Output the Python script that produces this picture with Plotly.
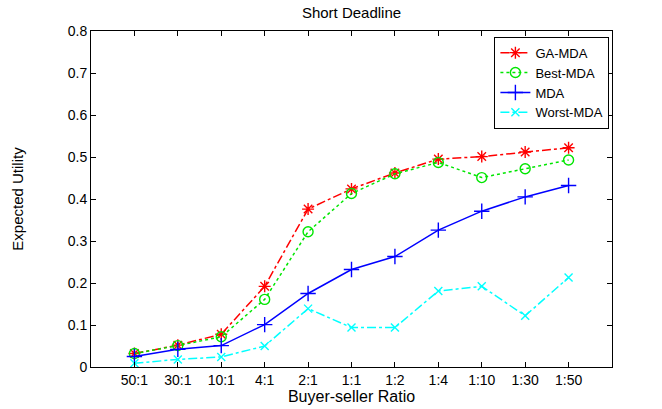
import plotly.graph_objects as go

categories = ["50:1", "30:1", "10:1", "4:1", "2:1", "1:1", "1:2", "1:4", "1:10", "1:30", "1:50"]
ga_mda = [0.032, 0.052, 0.078, 0.192, 0.376, 0.424, 0.462, 0.495, 0.501, 0.512, 0.522]
best_mda = [0.032, 0.051, 0.072, 0.161, 0.322, 0.413, 0.460, 0.487, 0.451, 0.472, 0.493]
mda = [0.025, 0.042, 0.051, 0.101, 0.175, 0.232, 0.263, 0.326, 0.371, 0.405, 0.432]
worst_mda = [0.009, 0.018, 0.024, 0.050, 0.139, 0.094, 0.094, 0.181, 0.192, 0.122, 0.213]
y_ticks = [0, 0.1, 0.2, 0.3, 0.4, 0.5, 0.6, 0.7, 0.8]
y_tick_text = ["0", "0.1", "0.2", "0.3", "0.4", "0.5", "0.6", "0.7", "0.8"]

x_idx = list(range(len(categories)))
FONT = "Liberation Sans, Arial, sans-serif"

series = [
    ("GA-MDA", ga_mda, "#ff0000", "dashdot", "asterisk-open", 10),
    ("Best-MDA", best_mda, "#00e600", "dot", "circle-open", 10),
    ("MDA", mda, "#0000ff", "solid", "cross-thin-open", 11),
    ("Worst-MDA", worst_mda, "#00ffff", "dashdot", "x-thin-open", 8),
]

fig = go.Figure()
for name, vals, color, dash, sym, size in series:
    fig.add_trace(go.Scatter(
        x=x_idx, y=vals, name=name, mode="lines+markers",
        line=dict(color=color, width=1.5, dash=dash),
        marker=dict(symbol=sym, size=size, color=color, line=dict(color=color, width=1.4)),
    ))

fig.update_layout(
    width=662, height=409,
    margin=dict(l=91, r=50, t=31, b=42),
    paper_bgcolor="white", plot_bgcolor="white",
    font=dict(family=FONT, color="black", size=14),
    title=dict(text="Short Deadline", x=0.531, xanchor="center", y=0.97, yanchor="middle",
               font=dict(size=15, family=FONT)),
    showlegend=True,
    legend=dict(x=0.995, xanchor="right", y=0.983, yanchor="top",
                bgcolor="white", bordercolor="black", borderwidth=1,
                font=dict(size=13, family=FONT), tracegroupgap=0,
                itemwidth=30),
)
fig.update_xaxes(
    range=[-1, 11], tickmode="array", tickvals=x_idx, ticktext=categories,
    ticks="inside", ticklen=5, tickcolor="black", showline=True, linecolor="black",
    linewidth=1, mirror="ticks", showgrid=False, zeroline=False, automargin=False,
    tickfont=dict(size=14, family=FONT),
    title=dict(text="Buyer-seller Ratio", standoff=3, font=dict(size=16, family=FONT)),
)
fig.update_yaxes(
    range=[0, 0.8], tickmode="array", tickvals=y_ticks, ticktext=y_tick_text,
    ticks="inside", ticklen=5, tickcolor="black", showline=True, linecolor="black",
    linewidth=1, mirror="ticks", showgrid=False, zeroline=False, automargin=False,
    tickfont=dict(size=14, family=FONT),
    title=dict(text="Expected Utility", standoff=40, font=dict(size=15, family=FONT)),
)

fig.write_html("out.html")
